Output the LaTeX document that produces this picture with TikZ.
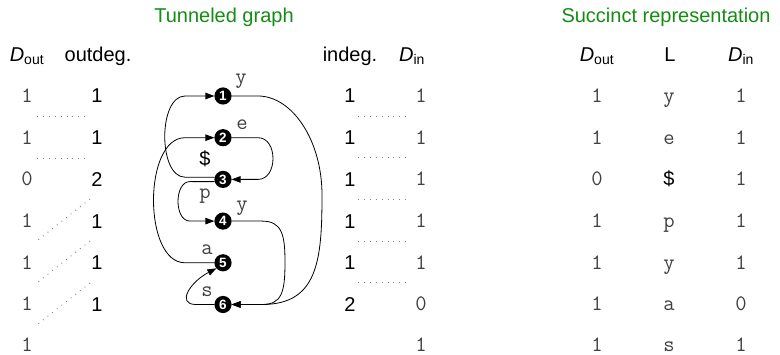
\documentclass[tikz,border=0pt]{standalone}
\usepackage{fontspec}
\setmainfont{Liberation Sans}
\usetikzlibrary{arrows.meta}
\definecolor{ttlgreen}{RGB}{20,140,20}
\begin{document}
\begin{tikzpicture}[x=1pt,y=-1pt,
  every node/.style={inner sep=0pt, outer sep=0pt},
  sftxt/.style={font=\fontsize{20}{24}\selectfont, anchor=base},
  ttxt/.style={font=\fontsize{22}{26}\selectfont\ttfamily, anchor=base, text=black!75},
  ttltxt/.style={font=\fontsize{20}{24}\selectfont, text=ttlgreen, anchor=base},
  vtx/.style={circle, fill=black, minimum size=17.2pt, inner sep=0pt, text=white, font=\fontsize{13.5}{13.5}\selectfont\bfseries},
  gedge/.style={line width=0.8pt, -{Triangle[length=9pt,width=6.5pt]}},
  dotline/.style={gray, line width=0.9pt, dash pattern=on 0.9pt off 5pt}
]
\useasboundingbox (0,0) rectangle (780,355);

% titles
\node[ttltxt] (t1) at (224,22.5) {Tunneled graph};
\node[ttltxt] (t2) at (666,22.5) {Succinct representation};

% headers
\node[sftxt] (h1) at (27,61.5) {{\itshape D}\textsubscript{out}};
\node[sftxt] (h2) at (98,61.5) {outdeg.};
\node[sftxt] (h3) at (350,61.5) {indeg.};
\node[sftxt] (h4) at (412,61.5) {{\itshape D}\textsubscript{in}};
\node[sftxt] (h5) at (597,61.5) {{\itshape D}\textsubscript{out}};
\node[sftxt] (h6) at (670,61.5) {L};
\node[sftxt] (h7) at (741,61.5) {{\itshape D}\textsubscript{in}};

% columns
\foreach \i/\y/\v in {1/96/1,2/137.7/1,3/179.4/0,4/221.1/1,5/262.8/1,6/304.5/1,7/345.5/1}
  \node[ttxt] (dol\i) at (27,\y+6.5) {\v};
\foreach \i/\y/\v in {1/96/1,2/137.7/1,3/179.4/2,4/221.1/1,5/262.8/1,6/304.5/1}
  \node[sftxt] (od\i) at (97,\y+7) {\v};
\foreach \i/\y/\v in {1/96/1,2/137.7/1,3/179.4/1,4/221.1/1,5/262.8/1,6/304.5/2}
  \node[sftxt] (id\i) at (350,\y+7) {\v};
\foreach \i/\y/\v in {1/96/1,2/137.7/1,3/179.4/1,4/221.1/1,5/262.8/1,6/304.5/0,7/345.5/1}
  \node[ttxt] (dil\i) at (421,\y+6.5) {\v};
\foreach \i/\y/\v in {1/96/1,2/137.7/1,3/179.4/0,4/221.1/1,5/262.8/1,6/304.5/1,7/345.5/1}
  \node[ttxt] (dor\i) at (597,\y+6.5) {\v};
\foreach \i/\y/\v in {1/96/1,2/137.7/1,3/179.4/1,4/221.1/1,5/262.8/1,6/304.5/0,7/345.5/1}
  \node[ttxt] (dir\i) at (741,\y+6.5) {\v};
\node[ttxt] (L1) at (669,102.5) {y};
\node[ttxt] (L2) at (669,144.2) {e};
\node[sftxt] (L3) at (669,186) {\$};
\node[ttxt] (L4) at (669,227.6) {p};
\node[ttxt] (L5) at (669,269.3) {y};
\node[ttxt] (L6) at (669,311) {a};
\node[ttxt] (L7) at (669,352) {s};

% dotted lines
\draw[dotline] (37,116.5) -- (90,116.5);
\draw[dotline] (37,158) -- (90,158);
\draw[dotline] (90,199) -- (38,240);
\draw[dotline] (90,241) -- (38,282);
\draw[dotline] (90,283) -- (38,324);
\foreach \y in {116,157.6,199.3,241,282.7}
  \draw[dotline] (358,\y) -- (411,\y);

% vertices
\foreach \i/\y in {1/96,2/137.7,3/179.4,4/221.1,5/262.8,6/304.5}
  \node[vtx] (n\i) at (223,\y) {\i};

% edges
\draw[gedge] (n1.east) -- (258,96) .. controls (292,96) and (322,140) .. (322,195)
  .. controls (322,260) and (318,304.5) .. (262,304.5) -- (n6.east);
\draw[gedge] (n2.east) -- (258,137.7) .. controls (278,137.7) and (278,179.4) .. (258,179.4) -- (n3.east);
\draw[gedge] (n3.165) -- (185,177.2) .. controls (158,177.2) and (158,96) .. (185,96) -- (n1.west);
\draw[gedge] (n3.195) -- (190,181.6) .. controls (174,181.6) and (174,221.1) .. (190,221.1) -- (n4.west);
\draw[gedge] (n4.east) -- (262,221.1) .. controls (282,221.1) and (285,235) .. (285,262)
  .. controls (285,292) and (282,304.5) .. (262,304.5) -- (n6.east);
\draw[gedge] (n5.west) -- (185,262.8) .. controls (143,262.8) and (143,137.7) .. (185,137.7) -- (n2.west);
\draw[gedge] (n6.west) -- (196,304.5) .. controls (176,304.5) and (190,282) .. (n5.220);

% edge labels
\node[ttxt] (ly1) at (241,84) {y};
\node[ttxt] (le) at (242,130) {e};
\node[sftxt] (ld) at (205,166) {\$};
\node[ttxt] (lp) at (205,199) {p};
\node[ttxt] (ly2) at (242,211) {y};
\node[ttxt] (la) at (207,255) {a};
\node[ttxt] (ls) at (207,297) {s};
\end{tikzpicture}
\end{document}
